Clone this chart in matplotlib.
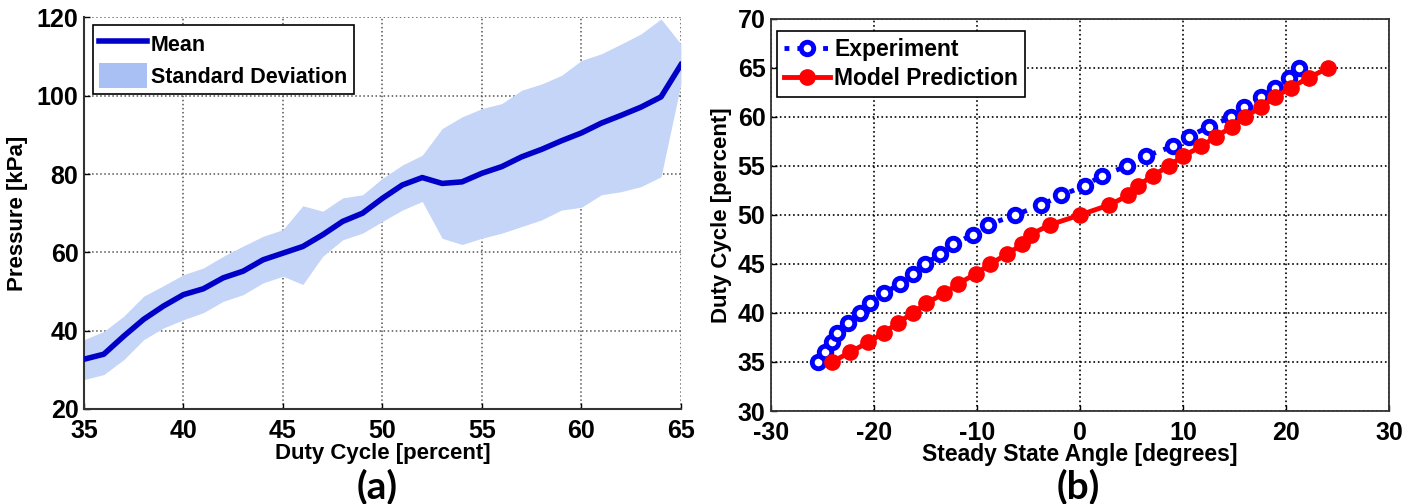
import matplotlib
matplotlib.use('Agg')
import matplotlib.pyplot as plt
from matplotlib.patches import Patch
from matplotlib.lines import Line2D
import numpy as np

plt.rcParams['axes.unicode_minus'] = False

# panel (a): pressure vs duty cycle
duty = list(range(35, 66))
mean_p = [32.7, 34.0, 38.6, 42.9, 46.3, 49.2, 50.7, 53.5, 55.2, 58.1, 59.8,
          61.5, 64.5, 67.9, 70.0, 73.8, 77.2, 79.1, 77.6, 78.0, 80.2, 81.9,
          84.4, 86.3, 88.5, 90.5, 93.0, 95.0, 97.1, 99.7, 107.9]
upper_p = [37.7, 39.8, 43.7, 48.8, 51.5, 54.3, 56.0, 59.0, 61.6, 64.1, 65.8,
           71.9, 70.5, 73.9, 74.7, 78.9, 82.3, 84.8, 91.6, 94.6, 96.7, 98.0,
           101.4, 103.0, 105.2, 109.0, 110.7, 113.2, 115.8, 119.6, 113.2]
lower_p = [27.5, 28.8, 32.6, 37.7, 40.7, 42.8, 44.6, 47.5, 49.2, 52.2, 53.9,
           51.8, 59.0, 63.2, 64.9, 67.9, 70.8, 73.0, 63.6, 62.0, 63.6, 64.9,
           66.6, 68.3, 70.8, 71.5, 74.7, 75.5, 76.8, 79.3, 103.0]

# panel (b): duty cycle vs steady state angle
exp_angle = [-25.4, -24.8, -24.1, -23.6, -22.5, -21.4, -20.4, -19.0, -17.5,
             -16.2, -15.0, -13.6, -12.3, -10.4, -8.9, -6.3, -3.8, -1.8, 0.5,
             2.1, 4.6, 6.4, 9.0, 10.6, 12.5, 14.7, 15.9, 17.6, 18.9, 20.3, 21.3]
model_angle = [-24.1, -22.3, -20.6, -19.0, -17.7, -16.2, -14.9, -13.2, -11.8,
               -10.1, -8.7, -7.1, -5.6, -4.8, -2.9, 0.0, 2.8, 4.7, 5.6, 7.1,
               8.6, 10.0, 11.8, 13.2, 14.8, 16.0, 17.6, 18.9, 20.5, 22.2, 24.1]

arial = ['Liberation Sans', 'DejaVu Sans']

fig = plt.figure(figsize=(14.18, 5.04), dpi=100)
ax1 = fig.add_axes([0.0592, 0.1885, 0.421, 0.777])
ax2 = fig.add_axes([0.5437, 0.1845, 0.4358, 0.778])

# ---- left panel
ax1.fill_between(duty, lower_p, upper_p, color='#c5d5f8', lw=0, zorder=1)
ax1.plot(duty, mean_p, color='#0000c8', lw=4, zorder=3)
ax1.set_xlim(35, 65)
ax1.set_ylim(20, 120)
ax1.set_xticks(range(35, 70, 5))
ax1.set_yticks(range(20, 140, 20))
ax1.grid(True, ls=':', color='#555555', lw=1.1, zorder=0)
ax1.set_axisbelow(True)
for s in ['top', 'right']:
    ax1.spines[s].set_visible(False)
for s in ['left', 'bottom']:
    ax1.spines[s].set_linewidth(1.5)
    ax1.spines[s].set_color('#333333')
ax1.tick_params(direction='in', length=4, width=1, labelsize=18)
ax1.tick_params(axis='x', pad=7)
ax1.tick_params(axis='y', pad=4)
for lab in ax1.get_xticklabels() + ax1.get_yticklabels():
    lab.set_family(arial)
    lab.set_fontweight('bold')
ax1.set_xlabel('Duty Cycle [percent]', family=arial, fontweight='bold',
               fontsize=16, labelpad=0)
ax1.set_ylabel('Pressure [kPa]', family=arial, fontweight='bold',
               fontsize=16, labelpad=6)
h1 = [Line2D([], [], color='#0000c8', lw=4),
      Patch(facecolor='#a9c0f5', edgecolor='none')]
leg1 = ax1.legend(h1, ['Mean', 'Standard Deviation'], loc='upper left',
                  bbox_to_anchor=(0.015, 0.98), borderaxespad=0,
                  fancybox=False, framealpha=1, edgecolor='black',
                  handlelength=2.2, handleheight=1.4, handletextpad=0.2,
                  borderpad=0.3, labelspacing=0.3,
                  prop={'family': arial, 'weight': 'bold', 'size': 15.5})
leg1.get_frame().set_linewidth(1.2)

# ---- right panel
ax2.plot(exp_angle, duty, ls=':', color='#0000ff', lw=3.5, marker='o',
         ms=9, mfc='white', mec='#0000ff', mew=3.5, zorder=3,
         label='Experiment')
ax2.plot(model_angle, duty, ls='-', color='#ff0000', lw=3.5, marker='o',
         ms=11, mfc='#ff0000', mec='#ff0000', zorder=4,
         label='Model Prediction')
ax2.set_xlim(-30, 30)
ax2.set_ylim(30, 70)
ax2.set_xticks(range(-30, 40, 10))
ax2.set_yticks(range(30, 75, 5))
ax2.grid(True, ls=':', color='black', lw=1.2, zorder=0)
ax2.set_axisbelow(True)
for s in ax2.spines.values():
    s.set_linewidth(1.3)
    s.set_color('#333333')
ax2.tick_params(direction='in', length=4, width=1, labelsize=18)
ax2.tick_params(axis='x', pad=7)
ax2.tick_params(axis='y', pad=4)
for lab in ax2.get_xticklabels() + ax2.get_yticklabels():
    lab.set_family(arial)
    lab.set_fontweight('bold')
ax2.set_xlabel('Steady State Angle [degrees]', family=arial,
               fontweight='bold', fontsize=16.5, labelpad=-1)
ax2.set_ylabel('Duty Cycle [percent]', family=arial, fontweight='bold',
               fontsize=16, labelpad=4)
leg2 = ax2.legend(loc='upper left', bbox_to_anchor=(0.01, 0.969),
                  borderaxespad=0, fancybox=False, framealpha=1,
                  edgecolor='black', handlelength=2.0, handletextpad=0.2,
                  borderpad=0.3, labelspacing=0.25,
                  prop={'family': arial, 'weight': 'bold', 'size': 16.5})
leg2.get_frame().set_linewidth(1.2)

fig.text(0.266, 0.034, '(a)', ha='center', va='center', fontsize=28,
         fontweight='bold', family=['Lato', 'DejaVu Sans'])
fig.text(0.7606, 0.034, '(b)', ha='center', va='center', fontsize=28,
         fontweight='bold', family=['Lato', 'DejaVu Sans'])

fig.savefig('out.png', dpi=100)
